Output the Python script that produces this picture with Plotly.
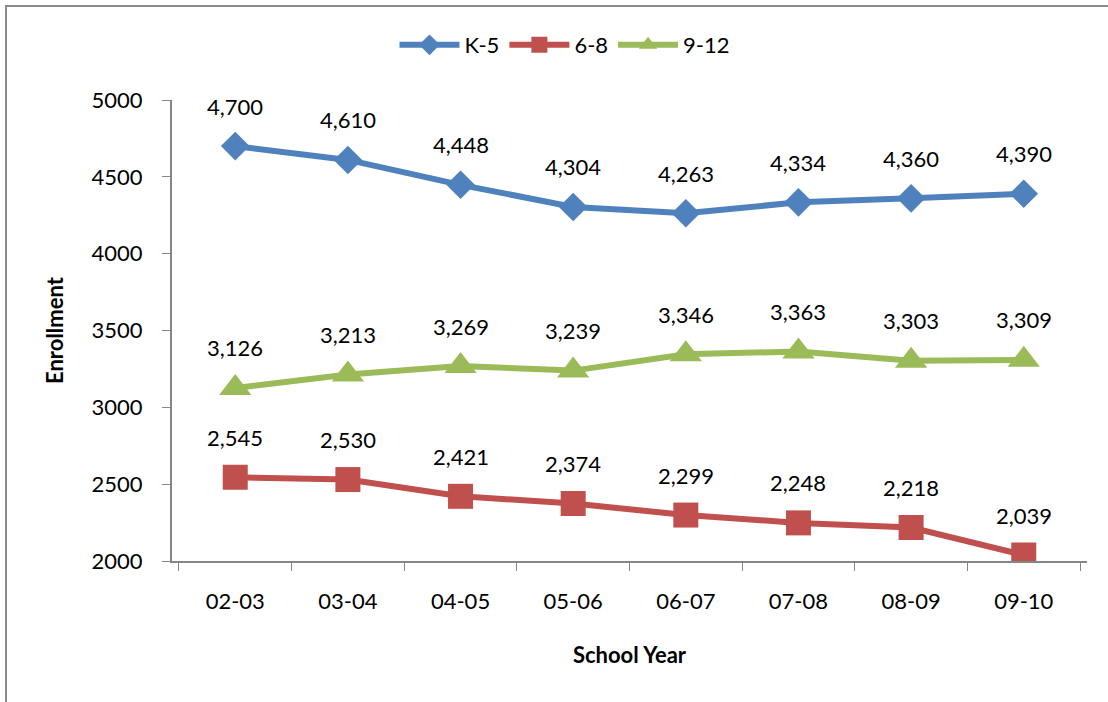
import plotly.graph_objects as go

years = ["02-03", "03-04", "04-05", "05-06", "06-07", "07-08", "08-09", "09-10"]
k5 = [4700, 4610, 4448, 4304, 4263, 4334, 4360, 4390]
g68 = [2545, 2530, 2421, 2374, 2299, 2248, 2218, 2039]
g912 = [3126, 3213, 3269, 3239, 3346, 3363, 3303, 3309]

series = [
    ("K-5", k5, "#4F81BD", "diamond", 22),
    ("6-8", g68, "#C0504D", "square", 25),
    ("9-12", g912, "#9BBB59", "triangle-up", 28),
]

FONT = "Lato, 'Open Sans', sans-serif"
FS = 22
fig = go.Figure()
annotations = []
for name, vals, color, sym, size in series:
    fig.add_trace(go.Scatter(
        x=years, y=vals, name=name, mode="lines+markers",
        line=dict(color=color, width=6),
        marker=dict(symbol=sym, size=size, color=color),
    ))
    for x, v in zip(years, vals):
        annotations.append(dict(x=x, y=v, xref="x", yref="y", text=f"{v:,}",
                                showarrow=False, yshift=40,
                                font=dict(size=FS, color="#000", family=FONT)))

L, R, T, B, W, H = 172, 21, 100, 141, 1108, 702
pw, ph = W - L - R, H - T - B
fig.update_layout(
    width=W, height=H,
    margin=dict(l=L, r=R, t=T, b=B, autoexpand=False),
    paper_bgcolor="white", plot_bgcolor="white",
    font=dict(family=FONT, size=FS, color="#000"),
    showlegend=True,
    legend=dict(orientation="h", x=(565 - L) / pw, xanchor="center",
                y=1 + (T - 45) / ph, yanchor="middle",
                font=dict(size=FS), tracegroupgap=0, itemwidth=60),
    annotations=annotations,
    shapes=[dict(type="rect", xref="paper", yref="paper",
                 x0=(6 - L) / pw, x1=(1130 - L) / pw,
                 y0=-(B + 30) / ph, y1=1 + (T - 6) / ph,
                 line=dict(color="#8C8C8C", width=2))],
)
fig.update_xaxes(
    type="category", showline=True, linecolor="#868686", linewidth=2,
    ticks="outside", ticklen=8, tickcolor="#868686", tickson="boundaries",
    showgrid=False, tickfont=dict(size=FS), ticklabelstandoff=20,
    title=dict(text="<b>School Year</b>", font=dict(size=FS), standoff=34),
)
fig.update_yaxes(
    range=[2000, 5000], dtick=500, showline=True, linecolor="#868686", linewidth=2,
    ticks="outside", ticklen=8, tickcolor="#868686", showgrid=False,
    tickfont=dict(size=FS), zeroline=False, ticklabelstandoff=15,
    title=dict(text="<b>Enrollment</b>", font=dict(size=FS), standoff=22),
)
fig.write_html("out.html", config={"displayModeBar": False},
               post_script="document.body.style.margin='0';")
